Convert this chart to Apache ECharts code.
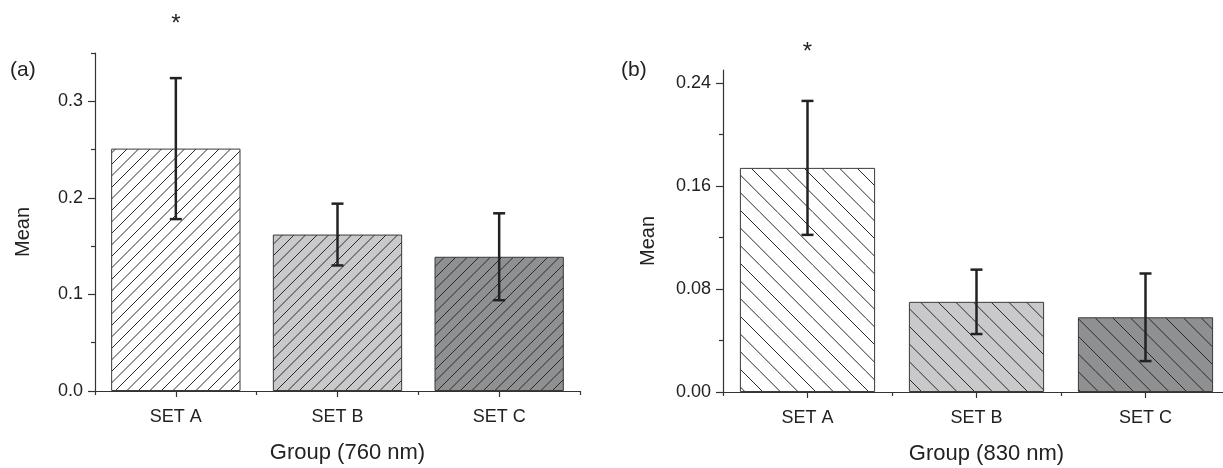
<!DOCTYPE html>
<html>
<head>
<meta charset="utf-8">
<script src="https://cdn.jsdelivr.net/npm/echarts@6/dist/echarts.min.js"></script>
<style>
html,body{margin:0;padding:0;background:#fff;}
#c{width:1223px;height:468px;}
</style>
</head>
<body>
<div id="c"></div>
<script>
// ---- data ----
const categories = ['SET A', 'SET B', 'SET C'];
const meanA = [0.251, 0.162, 0.139];      // panel (a), 760 nm
const errA  = [0.073, 0.032, 0.045];
const meanB = [0.174, 0.070, 0.058];      // panel (b), 830 nm
const errB  = [0.052, 0.025, 0.034];
const starA = [[0, 0.380]];               // significance marker (a): [category index, y]
const starB = [[0, 0.264]];               // significance marker (b)
const yTicksA = [0, 0.1, 0.2, 0.3];
const yMinorA = [0.05, 0.15, 0.25, 0.35];
const yTicksB = [0, 0.08, 0.16, 0.24];
const yMinorB = [0.04, 0.12, 0.20];

// ---- styles ----
const fills = ['#ffffff', '#c9c9cb', '#8f9092'];
const FONT = '"Liberation Sans", Arial, Helvetica, sans-serif';
const TXT = '#222';

function hatch(bg, dir, size, count) {
  const c = document.createElement('canvas');
  c.width = size; c.height = size;
  const g = c.getContext('2d');
  g.fillStyle = bg; g.fillRect(0, 0, size, size);
  g.strokeStyle = '#2a2a2a'; g.lineWidth = 1;
  const d = size / count;
  g.beginPath();
  for (let o = -size; o <= 2 * size; o += d) {
    if (dir === '/') { g.moveTo(o, size); g.lineTo(o + size, 0); }
    else { g.moveTo(o, 0); g.lineTo(o + size, size); }
  }
  g.stroke();
  return c;
}

const patA = fills.map(f => ({ image: hatch(f, '/', 23, 2), repeat: 'repeat' }));
const patB = fills.map(f => ({ image: hatch(f, '\\', 53, 3), repeat: 'repeat' }));

function barData(vals, pats) {
  return vals.map((v, i) => ({
    value: v,
    itemStyle: { color: pats[i], borderColor: '#3a3a3a', borderWidth: 1 }
  }));
}
function errData(vals, errs) {
  return vals.map((v, i) => [i, v - errs[i], v + errs[i]]);
}
function errRender(params, api) {
  const lo = api.coord([api.value(0), api.value(1)]);
  const hi = api.coord([api.value(0), api.value(2)]);
  const h = 6;
  const st = { stroke: '#222', lineWidth: 2.5 };
  return {
    type: 'group', children: [
      { type: 'line', shape: { x1: lo[0], y1: lo[1], x2: hi[0], y2: hi[1] }, style: st },
      { type: 'line', shape: { x1: lo[0] - h, y1: lo[1], x2: lo[0] + h, y2: lo[1] }, style: st },
      { type: 'line', shape: { x1: hi[0] - h, y1: hi[1], x2: hi[0] + h, y2: hi[1] }, style: st }
    ]
  };
}
function starRender(params, api) {
  const p = api.coord([api.value(0), api.value(1)]);
  return {
    type: 'text', x: p[0], y: p[1],
    style: { text: '*', font: '24px ' + FONT, fill: TXT, align: 'center', verticalAlign: 'middle' }
  };
}

const axisLine = { show: true, lineStyle: { color: '#333', width: 1.2 } };

function xAxes(gi, name) {
  return [
    {
      gridIndex: gi, type: 'category', data: categories, position: 'bottom',
      axisLine: axisLine,
      axisTick: { show: true, alignWithLabel: true, length: 6, lineStyle: { color: '#333', width: 1.2 } },
      axisLabel: { fontFamily: FONT, fontSize: 18, color: TXT, margin: 17 },
      name: name, nameLocation: 'middle', nameGap: 51,
      nameTextStyle: { fontFamily: FONT, fontSize: 22, color: TXT, padding: [0, 0, 0, 20] }
    },
    {
      gridIndex: gi, type: 'category', data: categories, position: 'bottom',
      axisLine: { show: false },
      axisTick: { show: true, length: 4, lineStyle: { color: '#333', width: 1.2 } },
      axisLabel: { show: false }
    }
  ];
}
function yAxes(gi, max, ticks, minor, dec, gap) {
  return [
    {
      gridIndex: gi, type: 'value', min: 0, max: max, position: 'left',
      splitLine: { show: false },
      axisLine: axisLine,
      axisTick: { show: true, length: 7, customValues: ticks, lineStyle: { color: '#333', width: 1.2 } },
      axisLabel: { customValues: ticks, fontFamily: FONT, fontSize: 18, color: TXT, margin: 12,
        formatter: v => v.toFixed(dec) },
      name: 'Mean', nameLocation: 'middle', nameGap: gap,
      nameTextStyle: { fontFamily: FONT, fontSize: 20, color: TXT, padding: [0, 20, 0, 0] }
    },
    {
      gridIndex: gi, type: 'value', min: 0, max: max, position: 'left', offset: 0,
      splitLine: { show: false },
      axisLine: { show: false },
      axisTick: { show: true, length: 4, customValues: minor, lineStyle: { color: '#333', width: 1.2 } },
      axisLabel: { show: false }
    }
  ];
}

const chart = echarts.init(document.getElementById('c'), null, { renderer: 'canvas' });
chart.setOption({
  animation: false,
  backgroundColor: '#fff',
  textStyle: { fontFamily: FONT },
  grid: [
    { left: 95, top: 53, width: 485, height: 338, outerBoundsMode: 'none', containLabel: false },
    { left: 723, top: 70, width: 507, height: 322, outerBoundsMode: 'none', containLabel: false }
  ],
  xAxis: [...xAxes(0, 'Group (760 nm)'), ...xAxes(1, 'Group (830 nm)')],
  yAxis: [...yAxes(0, 0.35, yTicksA, yMinorA, 1, 62), ...yAxes(1, 0.25, yTicksB, yMinorB, 2, 65)],
  graphic: [
    { type: 'text', left: 10, top: 60, style: { text: '(a)', font: '21px ' + FONT, fill: TXT } },
    { type: 'text', left: 621, top: 60, style: { text: '(b)', font: '21px ' + FONT, fill: TXT } }
  ],
  series: [
    { type: 'bar', xAxisIndex: 0, yAxisIndex: 0, barWidth: '80%', data: barData(meanA, patA) },
    { type: 'custom', xAxisIndex: 0, yAxisIndex: 0, renderItem: errRender,
      encode: { x: 0, y: [1, 2] }, data: errData(meanA, errA), z: 5 },
    { type: 'custom', xAxisIndex: 0, yAxisIndex: 0, renderItem: starRender, clip: false,
      encode: { x: 0, y: 1 }, data: starA, z: 5 },
    { type: 'bar', xAxisIndex: 2, yAxisIndex: 2, barWidth: '80%', data: barData(meanB, patB) },
    { type: 'custom', xAxisIndex: 2, yAxisIndex: 2, renderItem: errRender,
      encode: { x: 0, y: [1, 2] }, data: errData(meanB, errB), z: 5 },
    { type: 'custom', xAxisIndex: 2, yAxisIndex: 2, renderItem: starRender, clip: false,
      encode: { x: 0, y: 1 }, data: starB, z: 5 }
  ]
});
</script>
</body>
</html>
